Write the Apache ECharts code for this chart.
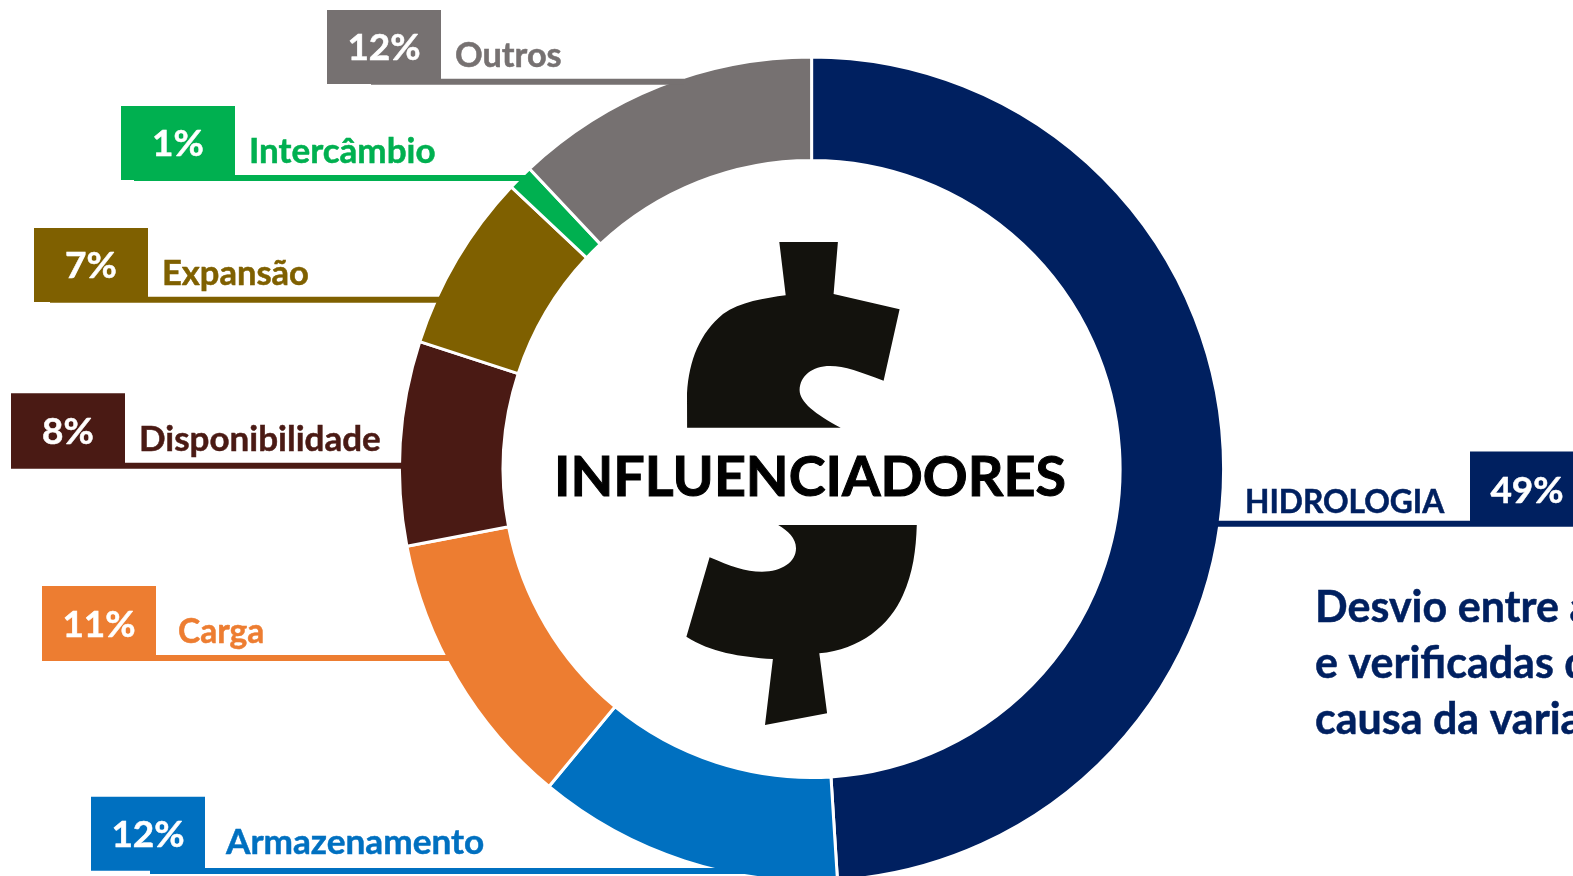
<!DOCTYPE html>
<html>
<head>
<meta charset="utf-8">
<title>Influenciadores</title>
<script src="https://cdn.jsdelivr.net/npm/echarts@6/dist/echarts.min.js"></script>
<style>
    html, body { margin: 0; padding: 0; background: #fff; overflow: hidden; }
    #main { width: 1573px; height: 876px; }
</style>
</head>
<body>
<div id="main"></div>
<script>
// clockwise from the top, same order as the slices in the picture
const names = ['HIDROLOGIA', 'Armazenamento', 'Carga', 'Disponibilidade', 'Expansão', 'Intercâmbio', 'Outros']
const values = [49, 12, 11, 8, 7, 1, 12]
const colors = ['#002060', '#0070C0', '#ED7D31', '#4A1A14', '#7F6000', '#00B050', '#767171']
const centerTitle = 'INFLUENCIADORES'
const noteLines = ['Desvio entre as', 'e verificadas d', 'causa da variação']

// callout layout, one row per slice:
// box x, box top, box bottom, line start, line end, line bottom, label x, label y, label size
const callouts = [
    [1470, 451.5, 526.7, 1214, 1470, 526.7, 1245, 519, 31.7],
    [91, 796.7, 870.7, 150, 750, 874, 226, 860, 35.2],
    [42, 586, 660.7, 42, 450, 661, 178, 649.5, 33.5],
    [11, 393.3, 468, 11, 405, 468.7, 139, 457, 35],
    [34, 228, 302, 50, 443, 302.7, 162, 291, 34.5],
    [121, 106, 180, 134, 530, 181, 249, 169, 35],
    [327, 10, 84, 371, 684, 84.7, 455, 72.5, 34.3]
]
const boxW = 114
const font = 'Lato'

const dollarTop = 'M779.3 242 L837.9 242 L833.6 294 L899.6 309.3 L883.6 380.7 C860 372 845 366 830 366 C812 366 800 376 799.6 390 C799.6 402 815 414 840.7 427.7 L687.1 427.7 L687 393.3 C689 360 700 333 723 314 C740 302 765 298 785.7 295.3 Z'
const dollarBottom = 'M778.2 525 L916.8 525 C916 550 913 573 903 595 C890 625 860 650 819.3 653.3 L827.1 713.3 L765 725 L772.9 659 C740 657 710 652 686.4 636.7 L709.6 557.3 C730 566 745 571.7 762 571.7 C782 571.7 796 562 796 548.3 C796 538 788 531 778.2 525 Z'

echarts.graphic.registerShape('dollarTop', echarts.graphic.extendPath(dollarTop, {}))
echarts.graphic.registerShape('dollarBottom', echarts.graphic.extendPath(dollarBottom, {}))

const graphics = []
graphics.push({type: 'dollarTop', style: {fill: '#13120D'}})
graphics.push({type: 'dollarBottom', style: {fill: '#13120D'}})
graphics.push({
    type: 'text', x: 810, y: 478.5, z: 10,
    style: {text: centerTitle, fill: '#000', stroke: '#000', lineWidth: 1, font: 'bold 55.6px ' + font, textAlign: 'center', textVerticalAlign: 'middle'}
})

names.forEach(function (name, i) {
    const c = callouts[i]
    graphics.push({type: 'rect', z: 10, shape: {x: c[3], y: c[5] - 6, width: c[4] - c[3], height: 6}, style: {fill: colors[i]}})
    graphics.push({type: 'rect', z: 10, shape: {x: c[0], y: c[1], width: boxW, height: c[2] - c[1]}, style: {fill: colors[i]}})
    graphics.push({
        type: 'text', x: c[0] + boxW / 2, y: (c[1] + c[2]) / 2 + 1.5, z: 11,
        style: {text: values[i] + '%', fill: '#fff', stroke: '#fff', lineWidth: 0.5, font: 'bold 37px ' + font, textAlign: 'center', textVerticalAlign: 'middle'}
    })
    graphics.push({
        type: 'text', x: c[6], y: c[7], z: 11,
        style: {text: name, fill: colors[i], stroke: colors[i], lineWidth: 0.5, font: 'bold ' + c[8] + 'px ' + font, textAlign: 'left', textVerticalAlign: 'bottom'}
    })
})

noteLines.forEach(function (line, i) {
    graphics.push({
        type: 'text', x: 1315, y: 608 + i * 56, z: 11,
        style: {text: line, fill: '#002060', stroke: '#002060', lineWidth: 0.5, font: 'bold 43px ' + font, textAlign: 'left', textVerticalAlign: 'middle'}
    })
})

const chart = echarts.init(document.getElementById('main'), null, {renderer: 'canvas'})
chart.setOption({
    animation: false,
    backgroundColor: '#fff',
    series: [{
        type: 'pie',
        silent: true,
        center: [811.6, 469],
        radius: [308.5, 412],
        startAngle: 90,
        clockwise: true,
        label: {show: false},
        labelLine: {show: false},
        itemStyle: {borderColor: '#fff', borderWidth: 3},
        data: names.map(function (name, i) {
            return {name: name, value: values[i], itemStyle: {color: colors[i]}}
        })
    }],
    graphic: graphics
})
</script>
</body>
</html>
